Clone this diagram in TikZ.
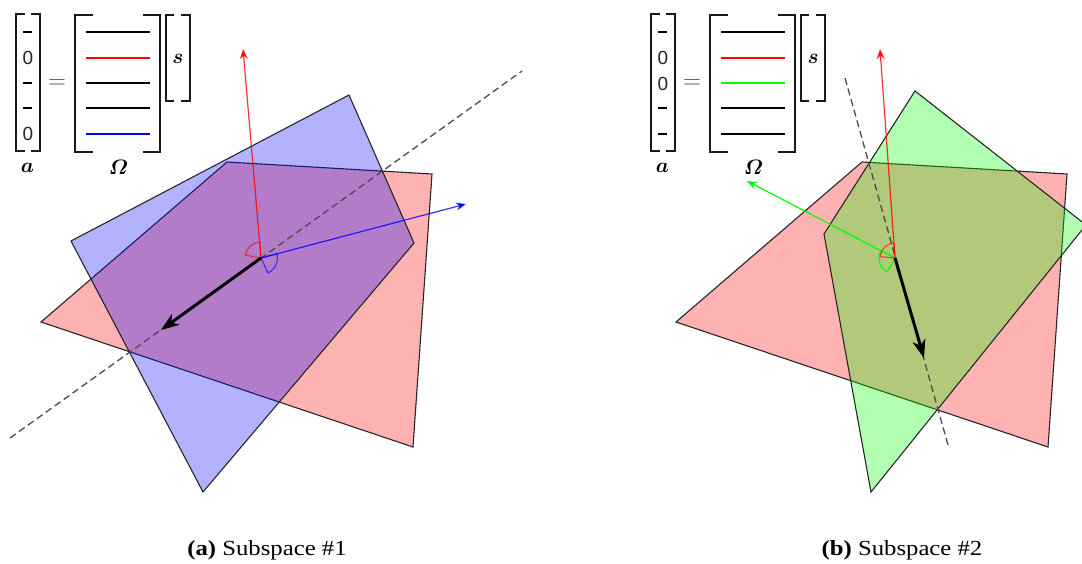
\documentclass[tikz,border=0pt]{standalone}
\usepackage{amsmath}
\usepackage{fontspec}
\setmainfont{Liberation Serif}
\newfontfamily\zerofont{Liberation Sans}
\newfontfamily\capfont[FakeStretch=1.15]{Liberation Serif}
\usetikzlibrary{arrows.meta}
\definecolor{purered}{RGB}{255,0,0}
\definecolor{puregreen}{RGB}{0,255,0}
\definecolor{pureblue}{RGB}{0,0,255}
\tikzset{
  plane/.style={draw=black!85,line width=1.1pt,fill opacity=0.3,line join=miter},
  axisline/.style={draw=black!70,line width=1.3pt,dash pattern=on 7pt off 4pt},
  thinarrow/.style={line width=1.2pt,-{Stealth[length=10pt,width=8pt]}},
  boldarrow/.style={black,line width=3pt,-{Stealth[length=18pt,width=13pt,inset=5pt]}},
  wedge/.style={line width=1.1pt,line join=round},
  bracket/.style={draw=black!90,line width=2pt,line cap=butt},
  rowline/.style={line width=2pt},
  dashrow/.style={black,line width=2pt},
  zero/.style={font=\zerofont\fontsize{19}{19}\selectfont,text=black!85,inner sep=0pt},
  sym/.style={inner sep=0pt,font=\fontsize{22}{22}\selectfont},
  caption/.style={inner sep=0pt,font=\capfont\fontsize{21.5}{24}\selectfont}
}
% #1 prefix, #2 x offset
\newcommand{\frameset}[2]{%
  \begin{scope}[xshift=#2pt]
    \coordinate (#1A) at (25,14); \coordinate (#1B) at (16,14);
    \coordinate (#1C) at (16,151); \coordinate (#1D) at (25,151);
    \draw[bracket] (#1A) -- (#1B) -- (#1C) -- (#1D);
    \coordinate (#1E) at (31,14); \coordinate (#1F) at (40,14);
    \coordinate (#1G) at (40,151); \coordinate (#1H) at (31,151);
    \draw[bracket] (#1E) -- (#1F) -- (#1G) -- (#1H);
    \coordinate (#1I) at (93,15); \coordinate (#1J) at (75,15);
    \coordinate (#1K) at (75,152); \coordinate (#1L) at (93,152);
    \draw[bracket] (#1I) -- (#1J) -- (#1K) -- (#1L);
    \coordinate (#1M) at (143,15); \coordinate (#1N) at (160,15);
    \coordinate (#1O) at (160,152); \coordinate (#1P) at (143,152);
    \draw[bracket] (#1M) -- (#1N) -- (#1O) -- (#1P);
    \coordinate (#1Q) at (174,15); \coordinate (#1R) at (166,15);
    \coordinate (#1S) at (166,101); \coordinate (#1T) at (174,101);
    \draw[bracket] (#1Q) -- (#1R) -- (#1S) -- (#1T);
    \coordinate (#1U) at (181,15); \coordinate (#1V) at (190,15);
    \coordinate (#1W) at (190,101); \coordinate (#1X) at (181,101);
    \draw[bracket] (#1U) -- (#1V) -- (#1W) -- (#1X);
    \node[sym,font=\fontsize{28}{28}\selectfont,text=black!70] (#1eq) at (57,84) {$=$};
    \node[sym] (#1a) at (27.5,167.5) {$\boldsymbol{a}$};
    \node[sym] (#1om) at (118.5,167.5) {$\boldsymbol{\varOmega}$};
    \node[sym] (#1s) at (178,59) {$\boldsymbol{s}$};
  \end{scope}}
% #1 prefix, #2 offset, #3 y, #4 colour
\newcommand{\rowrule}[4]{%
  \begin{scope}[xshift=#2pt]
    \coordinate (#1l) at (86,#3); \coordinate (#1r) at (149.5,#3);
    \draw[rowline,#4] (#1l) -- (#1r);
  \end{scope}}
\newcommand{\dashcell}[3]{%
  \begin{scope}[xshift=#2pt]
    \coordinate (#1l) at (23.3,#3); \coordinate (#1r) at (32.3,#3);
    \draw[dashrow] (#1l) -- (#1r);
  \end{scope}}
\begin{document}
\begin{tikzpicture}[x=1pt,y=-1pt]
\clip (0,0) rectangle (1082,563);
\useasboundingbox (0,0) rectangle (1082,563);

% ---------- panel (a)
\coordinate (ra1) at (41,322); \coordinate (ra2) at (227,162);
\coordinate (ra3) at (432,174); \coordinate (ra4) at (413,447);
\coordinate (ba1) at (349,95); \coordinate (ba2) at (414,243);
\coordinate (ba3) at (203,492); \coordinate (ba4) at (71,241);
\coordinate (ca) at (261,258);
\coordinate (da1) at (10,438); \coordinate (da2) at (522,71);
\coordinate (tra) at (243,49); \coordinate (tba) at (466,204); \coordinate (tka) at (161,330);
\path[plane,fill=purered] (ra1) -- (ra2) -- (ra3) -- (ra4) -- cycle;
\path[plane,fill=pureblue] (ba1) -- (ba2) -- (ba3) -- (ba4) -- cycle;
\draw[axisline] (da1) -- (da2);
\draw[thinarrow,purered,draw opacity=.8] (ca) -- (tra);
\draw[thinarrow,pureblue,draw opacity=.8] (ca) -- (tba);
\draw[wedge,purered,draw opacity=.65] (ca) -- +(-95:16) arc[start angle=-95,end angle=-170,radius=16] -- cycle;
\draw[wedge,pureblue,draw opacity=.65] (ca) -- +(-15:16.5) arc[start angle=-15,end angle=65,radius=16.5] -- cycle;
\draw[boldarrow] (ca) -- (tka);

% ---------- panel (b)
\coordinate (rb1) at (676,322); \coordinate (rb2) at (862,162);
\coordinate (rb3) at (1067,174); \coordinate (rb4) at (1048,447);
\coordinate (gb1) at (915,91); \coordinate (gb2) at (1086,225);
\coordinate (gb3) at (871,492); \coordinate (gb4) at (824,234);
\coordinate (cb) at (895,258);
\coordinate (db1) at (845,78); \coordinate (db2) at (948,445);
\coordinate (trb) at (880,49); \coordinate (tgb) at (747,181); \coordinate (tkb) at (924,358);
\path[plane,fill=purered] (rb1) -- (rb2) -- (rb3) -- (rb4) -- cycle;
\path[plane,fill=puregreen] (gb1) -- (gb2) -- (gb3) -- (gb4) -- cycle;
\draw[axisline] (db1) -- (db2);
\draw[thinarrow,purered,draw opacity=.8] (cb) -- (trb);
\draw[thinarrow,puregreen] (cb) -- (tgb);
\draw[wedge,puregreen] (cb) -- +(-152:16) arc[start angle=-152,end angle=-240,radius=16] -- cycle;
\draw[wedge,purered,draw opacity=.65] (cb) -- +(-95:15) arc[start angle=-95,end angle=-175,radius=15] -- cycle;
\draw[boldarrow] (cb) -- (tkb);

% ---------- matrices
\frameset{ma}{0}
\frameset{mb}{635}
\rowrule{ra}{0}{32}{black}
\rowrule{rb}{0}{58}{purered}
\rowrule{rc}{0}{83}{black}
\rowrule{rd}{0}{108}{black}
\rowrule{re}{0}{134}{pureblue}
\rowrule{sa}{635}{32}{black}
\rowrule{sb}{635}{58}{purered}
\rowrule{sc}{635}{83}{puregreen}
\rowrule{sd}{635}{108}{black}
\rowrule{se}{635}{134}{black}
\dashcell{ta}{0}{32}
\dashcell{tc}{0}{83}
\dashcell{td}{0}{108}
\node[zero] (zb) at (27.8,58) {0};
\node[zero] (ze) at (27.8,133.7) {0};
\dashcell{ua}{635}{32}
\dashcell{ud}{635}{108}
\dashcell{ue}{635}{134}
\node[zero] (zzb) at (662.8,58) {0};
\node[zero] (zzc) at (662.8,83.5) {0};

% ---------- captions
\node[caption] (capa) at (267,550) {\textbf{(a)} Subspace \#1};
\node[caption] (capb) at (902,550) {\textbf{(b)} Subspace \#2};
\end{tikzpicture}
\end{document}
